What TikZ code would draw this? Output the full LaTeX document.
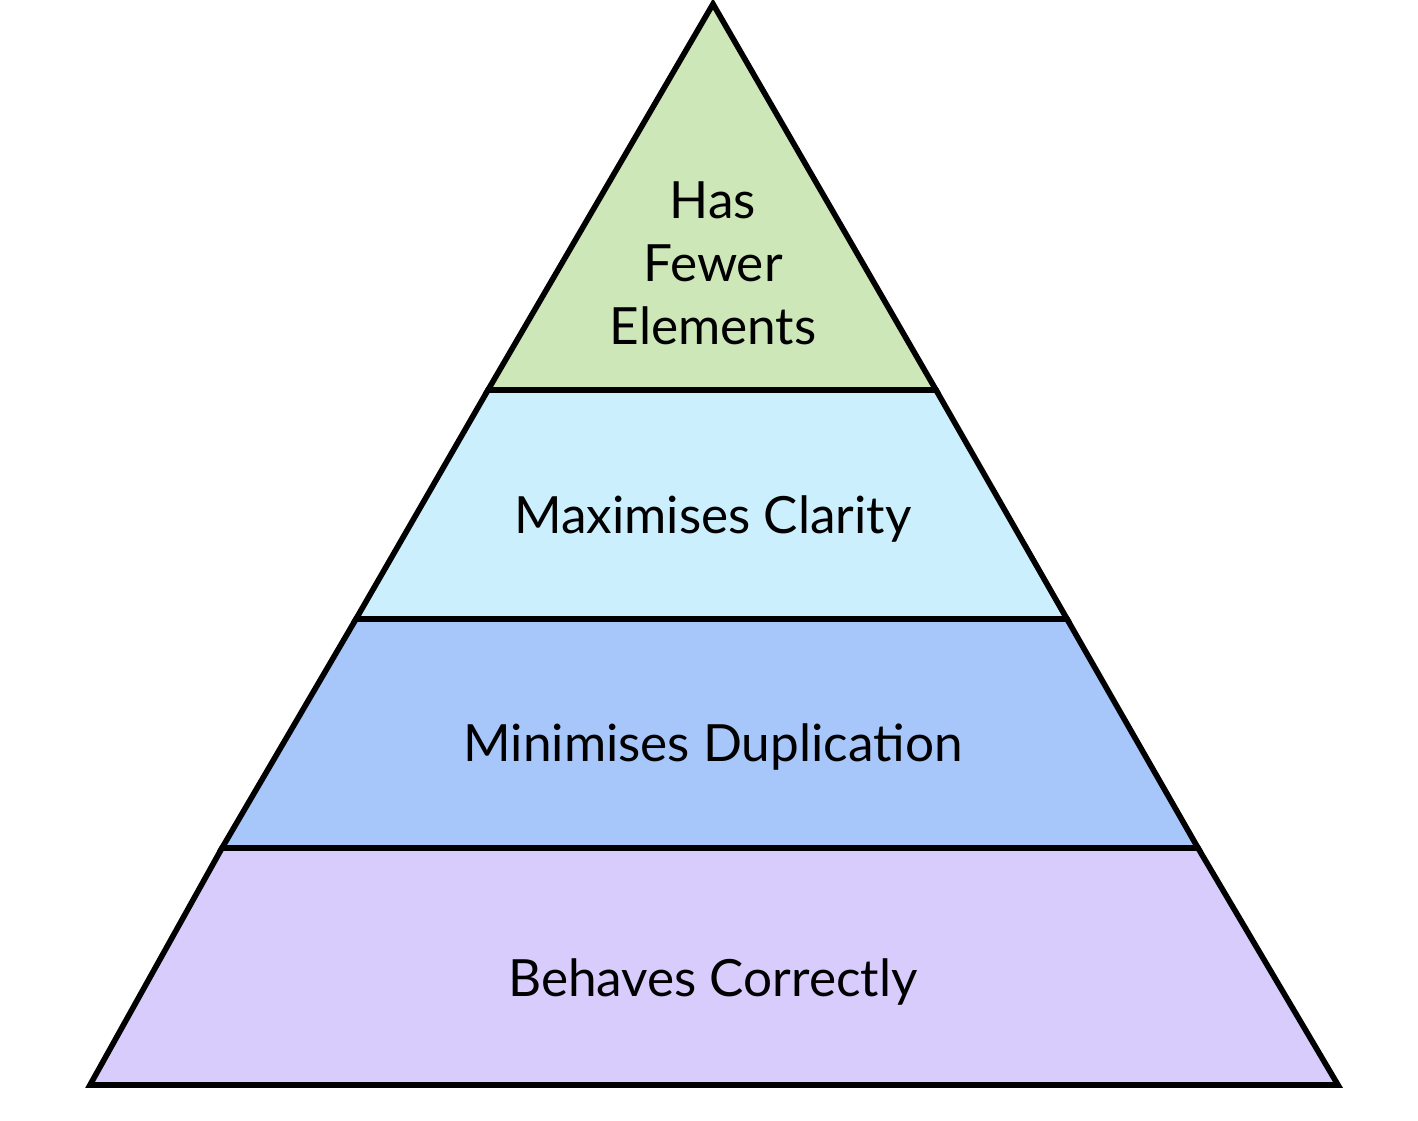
\documentclass[tikz,border=0pt]{standalone}
\usepackage{fontspec}
\setmainfont{Lato}
\usepackage{tikz}
\usetikzlibrary{calc}

\definecolor{topgreen}{HTML}{CDE7B8}
\definecolor{lightblue}{HTML}{CCEFFD}
\definecolor{midblue}{HTML}{A7C6FA}
\definecolor{lilac}{HTML}{D8CCFD}

\tikzset{
  layer/.style={draw=black, line width=1.6pt, line join=miter},
  label/.style={font=\fontsize{14.6}{17.9}\selectfont, align=center}
}

\begin{document}
\begin{tikzpicture}
      \useasboundingbox (0, 0) rectangle (14.18, 11.2);
      % layers, bottom to top
      \draw[layer, fill=lilac] (0.90, 0.35) -- (13.38, 0.35) -- (11.98, 2.72) -- (2.22, 2.72) -- cycle;
      \draw[layer, fill=midblue] (2.22, 2.72) -- (11.98, 2.72) -- (10.67, 5.01) -- (3.56, 5.01) -- cycle;
      \draw[layer, fill=lightblue] (3.56, 5.01) -- (10.67, 5.01) -- (9.36, 7.30) -- (4.88, 7.30) -- cycle;
      \draw[layer, fill=topgreen] (4.88, 7.30) -- (9.36, 7.30) -- (7.13, 11.16) -- cycle;
      \node[label] (fewer) at (7.13, 8.57) {Has\\Fewer\\Elements};
      \node[label] (clarity) at (7.13, 6.01) {Maximises Clarity};
      \node[label] (duplication) at (7.13, 3.73) {Minimises Duplication};
      \node[label] (correct) at (7.13, 1.38) {Behaves Correctly};
    \end{tikzpicture}
\end{document}
